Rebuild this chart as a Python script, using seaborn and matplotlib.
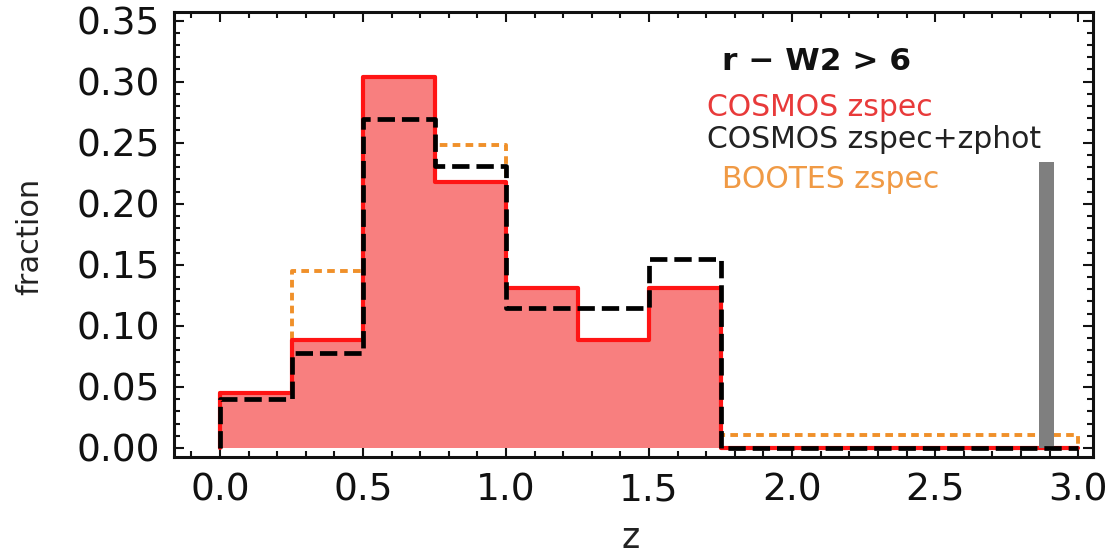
import numpy as np
import pandas as pd
import matplotlib
matplotlib.use("Agg")
import matplotlib.pyplot as plt
import seaborn as sns

# ---- data ----
bin_edges = [0.0, 0.25, 0.5, 0.75, 1.0, 1.25, 1.5, 1.75, 2.0, 2.25, 2.5, 2.75, 3.0]
cosmos_zspec = [0.045, 0.088, 0.304, 0.218, 0.131, 0.088, 0.131, 0.0, 0.0, 0.0, 0.0, 0.0]
cosmos_zspec_zphot = [0.040, 0.078, 0.269, 0.231, 0.115, 0.115, 0.155, 0.0, 0.0, 0.0, 0.0, 0.0]
bootes_zspec = [0.045, 0.145, 0.304, 0.248, 0.131, 0.088, 0.131, 0.011, 0.011, 0.011, 0.011, 0.011]
gray_bar_edges = [2.862, 2.915]
gray_bar_height = [0.234]

x_ticks = [0.0, 0.5, 1.0, 1.5, 2.0, 2.5, 3.0]
x_tick_labels = ["0.0", "0.5", "1.0", "1.5", "2.0", "2.5", "3.0"]
y_ticks = [0.00, 0.05, 0.10, 0.15, 0.20, 0.25, 0.30, 0.35]
y_tick_labels = ["0.00", "0.05", "0.10", "0.15", "0.20", "0.25", "0.30", "0.35"]

sns.set_theme(style="ticks")
plt.rcParams["font.family"] = ["DejaVu Sans"]
plt.rcParams["lines.scale_dashes"] = False

W, H = 1106, 554
fig = plt.figure(figsize=(W / 100, H / 100), dpi=100)
ax = fig.add_axes([174 / W, 1 - 457 / H, (1093 - 174) / W, (457 - 12) / H])


def step_frame(edges, vals):
    e = np.asarray(edges, dtype=float)
    v = np.asarray(vals, dtype=float)
    xs = np.concatenate([[e[0]], e, [e[-1]]])
    ys = np.concatenate([[0.0], v, [v[-1]], [0.0]])
    return pd.DataFrame({"z": xs, "fraction": ys})


centers = (np.asarray(bin_edges[:-1]) + np.asarray(bin_edges[1:])) / 2

# filled red histogram
sns.histplot(x=centers, weights=cosmos_zspec, bins=bin_edges, element="step",
             fill=True, color="#f87f7f", alpha=1.0, linewidth=0, ax=ax, zorder=1)

# orange dotted
df_o = step_frame(bin_edges, bootes_zspec)
sns.lineplot(data=df_o, x="z", y="fraction", estimator=None, sort=False,
             drawstyle="steps-post", color="#f0902a", linewidth=2.8,
             linestyle=(0, (5.5, 3.8)), ax=ax, zorder=2)

# red solid outline
df_r = step_frame(bin_edges, cosmos_zspec)
sns.lineplot(data=df_r, x="z", y="fraction", estimator=None, sort=False,
             drawstyle="steps-post", color="#ff1414", linewidth=3.0, ax=ax, zorder=3)

# gray bar
sns.histplot(x=[np.mean(gray_bar_edges)], weights=gray_bar_height, bins=gray_bar_edges,
             element="bars", fill=True, color="#7f7f7f", alpha=1.0, linewidth=0,
             ax=ax, zorder=3.5)

# black dashed
df_k = step_frame(bin_edges, cosmos_zspec_zphot)
sns.lineplot(data=df_k, x="z", y="fraction", estimator=None, sort=False,
             drawstyle="steps-post", color="black", linewidth=3.4,
             linestyle=(0, (12.5, 5.0)), ax=ax, zorder=4)

ax.set_xlim(-0.161, 3.052)
ax.set_ylim(-0.0074, 0.357)
ax.set_xticks(x_ticks)
ax.set_xticklabels(x_tick_labels)
ax.set_yticks(y_ticks)
ax.set_yticklabels(y_tick_labels)
ax.set_xticks(np.arange(-0.1, 3.05, 0.1), minor=True)
ax.set_yticks(np.arange(0.0, 0.355, 0.01), minor=True)
ax.tick_params(which="both", direction="in", top=True, right=True, width=1.5,
               colors="#111111")
ax.tick_params(which="major", length=7.5, labelsize=27)
ax.tick_params(which="minor", length=4.5)
ax.tick_params(axis="y", which="major", pad=10)
ax.tick_params(axis="x", which="major", pad=11)
for s in ax.spines.values():
    s.set_linewidth(2.2)
    s.set_color("#111111")
ax.set_xlabel("")
ax.set_ylabel("")

fig.text(30 / W, 1 - 236 / H, "fraction", rotation=90, fontsize=22,
         ha="center", va="center", color="#222222")
fig.text(631 / W, 1 - 538 / H, "z", fontsize=25, ha="center", va="center",
         color="#222222")

fig.text(722 / W, 1 - 62 / H, "r − W2 > 6", fontsize=22.5, fontweight="bold",
         ha="left", va="center", color="#111111")
fig.text(707 / W, 1 - 108 / H, "COSMOS zspec", fontsize=21.5, ha="left",
         va="center", color="#e83a3a")
fig.text(707 / W, 1 - 140 / H, "COSMOS zspec+zphot", fontsize=21.5, ha="left",
         va="center", color="#222222")
fig.text(722 / W, 1 - 180 / H, "BOOTES zspec", fontsize=21.5, ha="left",
         va="center", color="#f09a45")

fig.savefig("out.png", dpi=100)
